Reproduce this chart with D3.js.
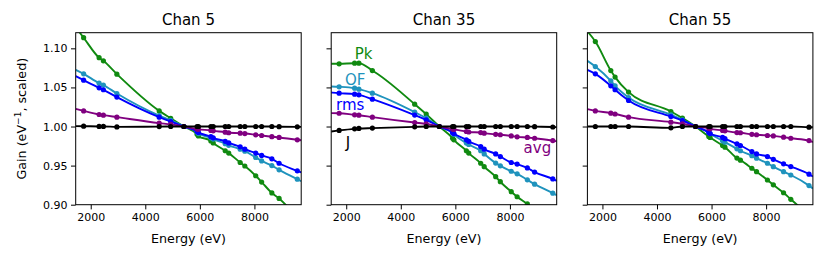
<!DOCTYPE html>
<html><head><meta charset="utf-8">
<script src="https://cdn.jsdelivr.net/npm/d3@7"></script>
<style>
body{margin:0;background:#fff;}
svg{display:block;font-family:"DejaVu Sans",sans-serif;}
</style></head>
<body><svg id="chart" width="830" height="259"></svg>
<script>
// ---- data ----
const xLimits = [1449, 9715];
const yLimits = [0.90, 1.12];
const xTicks = [2000, 4000, 6000, 8000];
const yTicks = [0.90, 0.95, 1.00, 1.05, 1.10];
const panelTitles = ["Chan 5", "Chan 35", "Chan 55"];
// calibration line energies (markers)
const energies = [1740, 2307, 2464, 2958, 4510, 4932, 5414, 5899, 5947, 6404, 6490, 6930, 7058, 7478, 7649, 8048, 8265, 8639, 8905, 9572];
// curve energies = axis-left edge, marker energies, axis-right edge
const curveEnergies = [xLimits[0], ...energies, xLimits[1]];
const seriesNames = ["Pk", "OF", "rms", "avg", "J"];
const seriesColors = ["#108a10", "#1f93bd", "#0000ff", "#800080", "#000000"];

// values along curveEnergies (first/last = curve at the axis edges)
const pk5  = [1.127, 1.1136, 1.088, 1.084, 1.067, 1.020, 1.0105, 1.000, 0.990, 0.988, 0.9815, 0.979, 0.969, 0.966, 0.954, 0.9495, 0.937, 0.929, 0.915, 0.908, 0.884, 0.879];
const of5  = [1.0725, 1.0674, 1.0555, 1.053, 1.0422, 1.014, 1.008, 1.000, 0.993, 0.991, 0.9855, 0.984, 0.978, 0.976, 0.971, 0.9685, 0.9604, 0.956, 0.950, 0.9446, 0.9327, 0.930];
const rms5 = [1.0645, 1.0593, 1.0495, 1.047, 1.0376, 1.012, 1.0064, 1.000, 0.9936, 0.9925, 0.987, 0.9855, 0.981, 0.979, 0.974, 0.971, 0.966, 0.963, 0.9587, 0.953, 0.9433, 0.9413];
const avg5 = [1.0226, 1.020, 1.0154, 1.0145, 1.012, 1.0043, 1.0027, 1.000, 0.9967, 0.9964, 0.995, 0.9945, 0.9928, 0.992, 0.9915, 0.991, 0.9894, 0.9885, 0.987, 0.986, 0.983, 0.9825];
const j5   = [1.0005, 1.0004, 1.0001, 1.0001, 0.9995, 0.9999, 1.0, 1.0, 1.0, 1.0, 1.0, 1.0, 1.0, 1.0, 1.0, 1.0, 1.0, 1.0, 1.0, 0.9998, 0.9996, 0.9996];

const pk35  = [1.0802, 1.0802, 1.081, 1.081, 1.0716, 1.0286, 1.0159, 1.000, 0.985, 0.983, 0.969, 0.966, 0.953, 0.9486, 0.9358, 0.9294, 0.9166, 0.9102, 0.901, 0.894, 0.876, 0.872];
const of35  = [1.0512, 1.0508, 1.049, 1.0478, 1.0427, 1.0184, 1.0107, 1.000, 0.9916, 0.990, 0.9788, 0.977, 0.969, 0.965, 0.9532, 0.9497, 0.9428, 0.9395, 0.9318, 0.9263, 0.9147, 0.912];
const rms35 = [1.0435, 1.0427, 1.0414, 1.0405, 1.035, 1.0146, 1.0086, 1.000, 0.9923, 0.991, 0.983, 0.981, 0.9744, 0.971, 0.965, 0.9616, 0.954, 0.952, 0.947, 0.9417, 0.933, 0.9305];
const avg35 = [1.0171, 1.017, 1.015, 1.0145, 1.012, 1.0051, 1.0035, 1.000, 0.9967, 0.9963, 0.9936, 0.993, 0.9923, 0.9915, 0.990, 0.9895, 0.988, 0.9868, 0.986, 0.985, 0.982, 0.981];
const j35   = [0.9936, 0.995, 0.997, 0.9975, 0.998, 0.9996, 1.0, 1.0, 1.0, 1.0, 1.0, 1.0, 1.0, 1.0, 1.0, 1.0, 1.0, 1.0, 1.0, 0.9998, 0.9994, 0.9992];

const pk55  = [1.1217, 1.1087, 1.0716, 1.0632, 1.044, 1.0192, 1.0107, 1.000, 0.9872, 0.986, 0.9757, 0.9736, 0.9596, 0.957, 0.9466, 0.9422, 0.9316, 0.9254, 0.9153, 0.9069, 0.887, 0.883];
const of55  = [1.084, 1.0767, 1.0584, 1.052, 1.0371, 1.015, 1.0085, 1.000, 0.9923, 0.991, 0.9817, 0.980, 0.9715, 0.969, 0.9627, 0.9595, 0.953, 0.9486, 0.9422, 0.938, 0.9244, 0.9207];
const rms55 = [1.0725, 1.0674, 1.052, 1.047, 1.0333, 1.0128, 1.0077, 1.000, 0.9923, 0.991, 0.986, 0.9845, 0.9779, 0.9757, 0.968, 0.965, 0.9616, 0.958, 0.9523, 0.9488, 0.939, 0.936];
const avg55 = [1.0222, 1.020, 1.0171, 1.016, 1.012, 1.0056, 1.0035, 1.000, 0.9975, 0.997, 0.995, 0.9945, 0.9923, 0.992, 0.990, 0.9895, 0.9885, 0.988, 0.9864, 0.985, 0.982, 0.980];
const j55   = [1.0, 1.0, 1.0, 1.0, 1.0, 0.9983, 1.0, 1.0, 1.0, 1.0, 1.0, 1.0, 1.0, 1.0, 1.0, 1.0, 1.0, 1.0, 1.0, 1.0, 0.9991, 0.999];

// labels in the middle panel, at data coordinates [energy, gain]
const labelNames = ["Pk", "OF", "rms", "J", "avg"];
const labelColors = ["#108a10", "#1f93bd", "#0000ff", "#000000", "#800080"];
const labelX = [2636, 2331, 2147, 2062, 9006];
const labelY = [1.0926, 1.0597, 1.0276, 0.9795, 0.9724];

// ---- layout ----
const panels = [
  {title: panelTitles[0], series: [pk5, of5, rms5, avg5, j5]},
  {title: panelTitles[1], series: [pk35, of35, rms35, avg35, j35]},
  {title: panelTitles[2], series: [pk55, of55, rms55, avg55, j55]}
];
const plotW = 225.5, plotH = 172, plotTop = 32.7;
const lefts = [75.7, 331.2, 587.4];

const svg = d3.select("#chart");
const x = d3.scaleLinear().domain(xLimits).range([0, plotW]);
const y = d3.scaleLinear().domain(yLimits).range([plotH, 0]);

svg.append("defs").append("clipPath").attr("id", "clip")
  .append("rect").attr("x", 0).attr("y", 0).attr("width", plotW).attr("height", plotH);

panels.forEach((p, pi) => {
  const g = svg.append("g").attr("transform", `translate(${lefts[pi]},${plotTop})`);
  const plot = g.append("g").attr("clip-path", "url(#clip)");
  const line = d3.line().x((d, i) => x(curveEnergies[i])).y(d => y(d)).curve(d3.curveMonotoneX);
  p.series.forEach((vals, si) => {
    const col = seriesColors[si];
    plot.append("path").datum(vals).attr("d", line)
      .attr("fill", "none").attr("stroke", col).attr("stroke-width", 1.9);
    plot.selectAll(null).data(vals.slice(1, -1)).enter().append("circle")
      .attr("cx", (d, i) => x(energies[i])).attr("cy", d => y(d))
      .attr("r", 2.6).attr("fill", col);
  });
  // axes
  const xa = g.append("g").attr("transform", `translate(0,${plotH})`)
    .call(d3.axisBottom(x).tickValues(xTicks).tickFormat(d3.format("d")).tickSize(4.7).tickPadding(3.5));
  const ya = g.append("g")
    .call(d3.axisLeft(y).tickValues(yTicks).tickFormat(pi === 0 ? d3.format(".2f") : () => "").tickSize(4.7).tickPadding(3.5));
  [xa, ya].forEach(a => {
    a.select(".domain").remove();
    a.selectAll("line").attr("stroke", "#000").attr("stroke-width", 1);
    a.selectAll("text").attr("font-size", 11).attr("fill", "#000").attr("font-family", "DejaVu Sans");
  });
  g.append("rect").attr("width", plotW).attr("height", plotH)
    .attr("fill", "none").attr("stroke", "#000").attr("stroke-width", 1);
  g.append("text").attr("x", plotW / 2).attr("y", -8).attr("text-anchor", "middle")
    .attr("font-size", 15).text(p.title);
  g.append("text").attr("x", plotW / 2).attr("y", plotH + 38).attr("text-anchor", "middle")
    .attr("font-size", 12.7).text("Energy (eV)");
  if (pi === 1) {
    labelNames.forEach((t, i) => {
      g.append("text").attr("x", x(labelX[i])).attr("y", y(labelY[i]))
        .attr("text-anchor", "middle").attr("dominant-baseline", "central")
        .attr("font-size", 15).attr("fill", labelColors[i]).text(t);
    });
  }
  if (pi === 0) {
    const yl = g.append("text").attr("transform", `translate(-50,${plotH / 2}) rotate(-90)`)
      .attr("text-anchor", "middle").attr("font-size", 12.7);
    yl.append("tspan").text("Gain (eV");
    yl.append("tspan").attr("dy", -5).attr("font-size", 9).text("\u22121");
    yl.append("tspan").attr("dy", 5).text(", scaled)");
  }
});
</script></body></html>
